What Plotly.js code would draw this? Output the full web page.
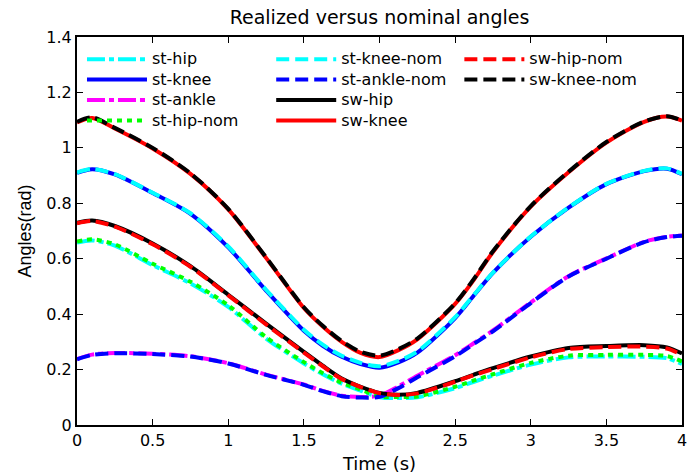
<!DOCTYPE html>
<html>
<head>
<meta charset="utf-8">
<script src="https://cdn.plot.ly/plotly-3.0.1.min.js"></script>
<style>
  html, body { margin: 0; padding: 0; background: #fff; }
  #chart { width: 699px; height: 474px; }
</style>
</head>
<body>
<div id="chart"></div>
<script>
// Time samples (s)
const time = [0, 0.1, 0.25, 0.5, 0.75, 1, 1.25, 1.5, 1.625, 1.75, 1.875, 2,
              2.125, 2.25, 2.5, 2.625, 2.75, 3, 3.25, 3.5, 3.75, 3.9, 4];

// Stance leg, realized angles (rad)
const stHip   = [0.658, 0.666, 0.647, 0.577, 0.511, 0.426, 0.312, 0.222, 0.183, 0.149, 0.124, 0.100,
                 0.097, 0.100, 0.133, 0.156, 0.178, 0.218, 0.244, 0.247, 0.246, 0.241, 0.220];
const stKnee  = [0.910, 0.923, 0.904, 0.837, 0.762, 0.641, 0.485, 0.340, 0.286, 0.246, 0.220, 0.207,
                 0.226, 0.261, 0.386, 0.468, 0.549, 0.679, 0.784, 0.869, 0.916, 0.925, 0.905];
const stAnkle = [0.238, 0.254, 0.260, 0.257, 0.248, 0.223, 0.182, 0.146, 0.123, 0.106, 0.101, 0.106,
                 0.139, 0.178, 0.252, 0.296, 0.341, 0.442, 0.537, 0.601, 0.661, 0.679, 0.684];

// Stance leg, nominal angles (rad)
const stHipNom   = [0.662, 0.670, 0.652, 0.582, 0.517, 0.432, 0.317, 0.227, 0.187, 0.153, 0.128, 0.103,
                    0.101, 0.103, 0.138, 0.161, 0.183, 0.224, 0.250, 0.253, 0.253, 0.249, 0.229];
const stKneeNom  = [0.911, 0.924, 0.905, 0.838, 0.764, 0.644, 0.488, 0.344, 0.290, 0.250, 0.224, 0.212,
                    0.231, 0.265, 0.389, 0.470, 0.550, 0.680, 0.785, 0.870, 0.917, 0.926, 0.906];
const stAnkleNom = [0.237, 0.253, 0.259, 0.256, 0.247, 0.222, 0.181, 0.145, 0.122, 0.104, 0.099, 0.102,
                    0.133, 0.172, 0.248, 0.293, 0.338, 0.440, 0.536, 0.600, 0.660, 0.678, 0.683];

// Swing leg, realized angles (rad)
const swHip  = [0.730, 0.738, 0.718, 0.655, 0.573, 0.470, 0.366, 0.264, 0.214, 0.168, 0.138, 0.116,
                0.109, 0.116, 0.158, 0.182, 0.205, 0.247, 0.278, 0.285, 0.288, 0.280, 0.258];
const swKnee = [1.092, 1.108, 1.070, 0.998, 0.906, 0.778, 0.603, 0.422, 0.355, 0.300, 0.260, 0.245,
                0.270, 0.309, 0.437, 0.525, 0.624, 0.788, 0.912, 1.019, 1.094, 1.113, 1.098];

// Swing leg, nominal angles (rad)
const swHipNom  = [0.728, 0.736, 0.716, 0.652, 0.571, 0.468, 0.363, 0.261, 0.212, 0.166, 0.137, 0.115,
                   0.108, 0.114, 0.156, 0.180, 0.202, 0.244, 0.274, 0.281, 0.283, 0.276, 0.253];
const swKneeNom = [1.094, 1.110, 1.072, 1.000, 0.908, 0.780, 0.605, 0.425, 0.358, 0.303, 0.264, 0.250,
                   0.274, 0.312, 0.439, 0.528, 0.627, 0.790, 0.914, 1.021, 1.095, 1.114, 1.098];

const xTicks = [0, 0.5, 1, 1.5, 2, 2.5, 3, 3.5, 4];
const yTicks = [0, 0.2, 0.4, 0.6, 0.8, 1, 1.2, 1.4];

const DASH = '13px,6px';
const DASHDOT = '18px,4px,5px,4px';
const DOT = '5px,5px';
const LW = 4;

// Legend rows are spaced by the legend font size; the entry text itself is set a bit larger.
function label(text) {
  return '<span style="font-size:16px">' + text + '</span>';
}

function series(name, y, color, dash, legend) {
  return {
    type: 'scatter', mode: 'lines', name: label(name),
    x: time, y: y,
    line: { color: color, width: LW, dash: dash, shape: 'spline', smoothing: 0.8 },
    legend: legend
  };
}

// Drawing order: later traces sit on top
const traces = [
  series('st-hip',       stHip,      '#00ffff', DASHDOT, 'legend'),
  series('st-knee',      stKnee,     '#0000ff', 'solid', 'legend'),
  series('st-ankle',     stAnkle,    '#ff00ff', DASHDOT, 'legend'),
  series('st-hip-nom',   stHipNom,   '#00ff00', DOT,     'legend'),
  series('st-knee-nom',  stKneeNom,  '#00ffff', DASH,    'legend2'),
  series('st-ankle-nom', stAnkleNom, '#0000ff', DASH,    'legend2'),
  series('sw-hip',       swHip,      '#000000', 'solid', 'legend2'),
  series('sw-knee',      swKnee,     '#ff0000', 'solid', 'legend2'),
  series('sw-hip-nom',   swHipNom,   '#ff0000', DASH,    'legend3'),
  series('sw-knee-nom',  swKneeNom,  '#000000', DASH,    'legend3')
];

const legendBase = {
  yanchor: 'top', xanchor: 'left', y: 0.982,
  bgcolor: 'rgba(0,0,0,0)', borderwidth: 0,
  font: { family: 'DejaVu Sans', size: 13.4, color: '#000' },
  itemwidth: 60, tracegroupgap: 0, traceorder: 'normal'
};

const axisBase = {
  showgrid: false, zeroline: false,
  showline: true, linecolor: '#000', linewidth: 2, mirror: 'ticks',
  ticks: 'inside', ticklen: 6, tickwidth: 1, tickcolor: '#000',
  tickfont: { family: 'DejaVu Sans', size: 16, color: '#000' }
};

const layout = {
  width: 699, height: 474,
  margin: { l: 77, r: 17, t: 37, b: 49, pad: 0 },
  paper_bgcolor: '#fff', plot_bgcolor: '#fff',
  title: {
    text: 'Realized versus nominal angles',
    font: { family: 'DejaVu Sans', size: 19, color: '#000' },
    x: 0.5, xref: 'paper', xanchor: 'center',
    y: 0.964, yref: 'container', yanchor: 'middle'
  },
  xaxis: Object.assign({}, axisBase, {
    range: [0, 4], tickvals: xTicks, ticktext: xTicks.map(String),
    title: { text: 'Time (s)', font: { family: 'DejaVu Sans', size: 18, color: '#000' }, standoff: 8 }
  }),
  yaxis: Object.assign({}, axisBase, {
    range: [0, 1.4], tickvals: yTicks, ticktext: yTicks.map(String),
    title: { text: 'Angles(rad)', font: { family: 'Liberation Sans', size: 18, color: '#000' }, standoff: 10 }
  }),
  showlegend: true,
  legend:  Object.assign({}, legendBase, { x: 0.00825 }),
  legend2: Object.assign({}, legendBase, { x: 0.321 }),
  legend3: Object.assign({}, legendBase, { x: 0.632 })
};

Plotly.newPlot('chart', traces, layout, { displayModeBar: false, staticPlot: true });
</script>
</body>
</html>
